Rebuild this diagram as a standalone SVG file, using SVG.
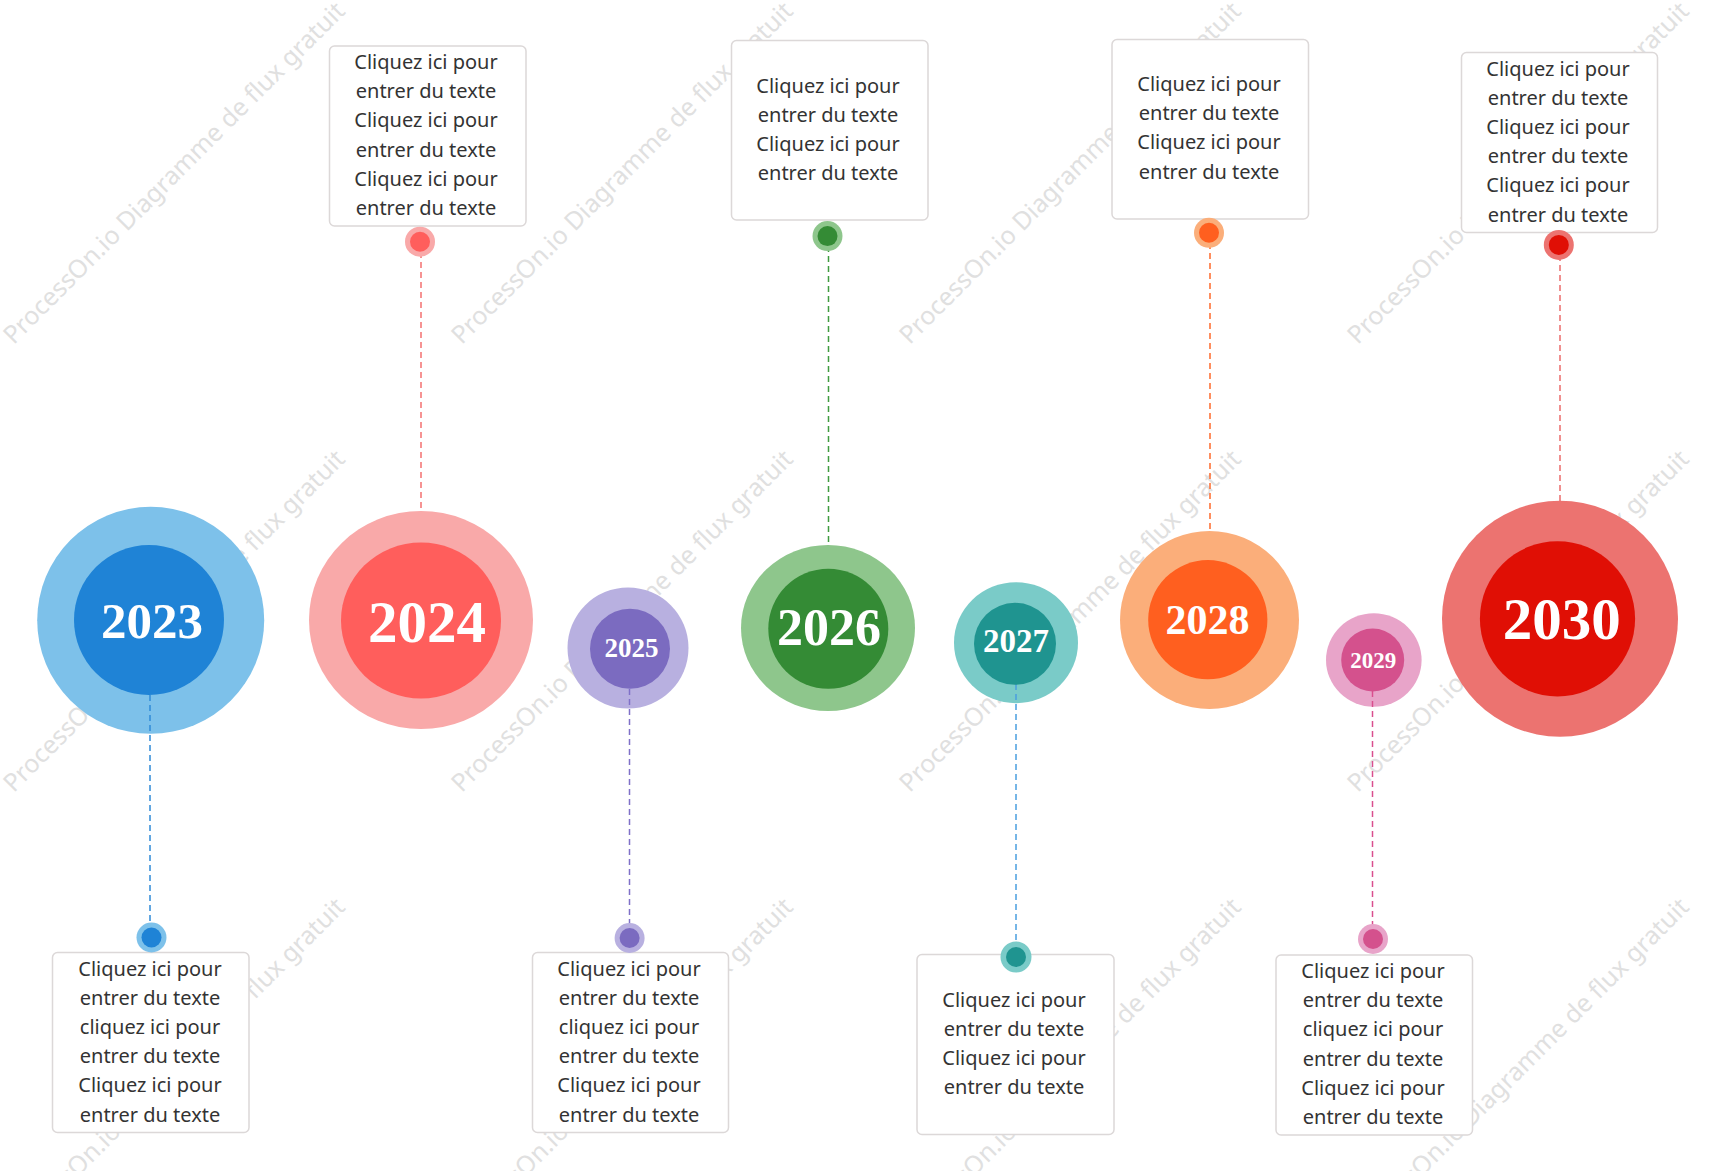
<svg xmlns="http://www.w3.org/2000/svg" width="1714" height="1171" viewBox="0 0 1714 1171">
<defs>
<style>
.wm{font-family:"Noto Sans","Liberation Sans",sans-serif;font-size:25px;fill:#e0e0e0;text-anchor:middle}
.box{fill:#fff;stroke:#dcd8d8;stroke-width:1.5}
.bt{font-family:"Noto Sans","Open Sans",sans-serif;font-size:20px;fill:#333;text-anchor:middle}
.yr{font-family:"Liberation Serif","DejaVu Serif",serif;font-weight:bold;fill:#fff;text-anchor:middle}
.cn{fill:none;stroke-width:1.5;stroke-dasharray:6 4}
</style>
</defs>
<rect width="1714" height="1171" fill="#fff"/>
<g id="watermark">
<text class="wm" transform="translate(180,179) rotate(-45)">ProcessOn.io Diagramme de flux gratuit</text>
<text class="wm" transform="translate(628,179) rotate(-45)">ProcessOn.io Diagramme de flux gratuit</text>
<text class="wm" transform="translate(1076,179) rotate(-45)">ProcessOn.io Diagramme de flux gratuit</text>
<text class="wm" transform="translate(1524,179) rotate(-45)">ProcessOn.io Diagramme de flux gratuit</text>
<text class="wm" transform="translate(180,627) rotate(-45)">ProcessOn.io Diagramme de flux gratuit</text>
<text class="wm" transform="translate(628,627) rotate(-45)">ProcessOn.io Diagramme de flux gratuit</text>
<text class="wm" transform="translate(1076,627) rotate(-45)">ProcessOn.io Diagramme de flux gratuit</text>
<text class="wm" transform="translate(1524,627) rotate(-45)">ProcessOn.io Diagramme de flux gratuit</text>
<text class="wm" transform="translate(180,1075) rotate(-45)">ProcessOn.io Diagramme de flux gratuit</text>
<text class="wm" transform="translate(628,1075) rotate(-45)">ProcessOn.io Diagramme de flux gratuit</text>
<text class="wm" transform="translate(1076,1075) rotate(-45)">ProcessOn.io Diagramme de flux gratuit</text>
<text class="wm" transform="translate(1524,1075) rotate(-45)">ProcessOn.io Diagramme de flux gratuit</text>
</g>

<g id="boxes">
<g id="box2023">
<rect class="box" x="52.5" y="952.5" width="196.5" height="180" rx="5"/>
<text class="bt" x="150" y="975.5">Cliquez ici pour</text>
<text class="bt" x="150" y="1004.7">entrer du texte</text>
<text class="bt" x="150" y="1033.9">cliquez ici pour</text>
<text class="bt" x="150" y="1063.1">entrer du texte</text>
<text class="bt" x="150" y="1092.3">Cliquez ici pour</text>
<text class="bt" x="150" y="1121.5">entrer du texte</text>
</g>
<g id="box2024">
<rect class="box" x="329.5" y="46" width="196.5" height="180" rx="5"/>
<text class="bt" x="426" y="69">Cliquez ici pour</text>
<text class="bt" x="426" y="98.2">entrer du texte</text>
<text class="bt" x="426" y="127.4">Cliquez ici pour</text>
<text class="bt" x="426" y="156.6">entrer du texte</text>
<text class="bt" x="426" y="185.8">Cliquez ici pour</text>
<text class="bt" x="426" y="215">entrer du texte</text>
</g>
<g id="box2025">
<rect class="box" x="532.5" y="952.5" width="196" height="180" rx="5"/>
<text class="bt" x="629" y="975.5">Cliquez ici pour</text>
<text class="bt" x="629" y="1004.7">entrer du texte</text>
<text class="bt" x="629" y="1033.9">cliquez ici pour</text>
<text class="bt" x="629" y="1063.1">entrer du texte</text>
<text class="bt" x="629" y="1092.3">Cliquez ici pour</text>
<text class="bt" x="629" y="1121.5">entrer du texte</text>
</g>
<g id="box2026">
<rect class="box" x="731.5" y="40.5" width="196.5" height="179.5" rx="5"/>
<text class="bt" x="828" y="92.5">Cliquez ici pour</text>
<text class="bt" x="828" y="121.7">entrer du texte</text>
<text class="bt" x="828" y="150.9">Cliquez ici pour</text>
<text class="bt" x="828" y="180.1">entrer du texte</text>
</g>
<g id="box2027">
<rect class="box" x="917" y="954.5" width="197" height="180" rx="5"/>
<text class="bt" x="1014" y="1006.5">Cliquez ici pour</text>
<text class="bt" x="1014" y="1035.7">entrer du texte</text>
<text class="bt" x="1014" y="1064.9">Cliquez ici pour</text>
<text class="bt" x="1014" y="1094.1">entrer du texte</text>
</g>
<g id="box2028">
<rect class="box" x="1112" y="39.5" width="196.5" height="179.5" rx="5"/>
<text class="bt" x="1209" y="91">Cliquez ici pour</text>
<text class="bt" x="1209" y="120.2">entrer du texte</text>
<text class="bt" x="1209" y="149.4">Cliquez ici pour</text>
<text class="bt" x="1209" y="178.6">entrer du texte</text>
</g>
<g id="box2029">
<rect class="box" x="1276" y="955" width="196.5" height="180" rx="5"/>
<text class="bt" x="1373" y="978">Cliquez ici pour</text>
<text class="bt" x="1373" y="1007.2">entrer du texte</text>
<text class="bt" x="1373" y="1036.4">cliquez ici pour</text>
<text class="bt" x="1373" y="1065.6">entrer du texte</text>
<text class="bt" x="1373" y="1094.8">Cliquez ici pour</text>
<text class="bt" x="1373" y="1124">entrer du texte</text>
</g>
<g id="box2030">
<rect class="box" x="1461.5" y="52.5" width="196" height="180" rx="5"/>
<text class="bt" x="1558" y="75.5">Cliquez ici pour</text>
<text class="bt" x="1558" y="104.7">entrer du texte</text>
<text class="bt" x="1558" y="133.9">Cliquez ici pour</text>
<text class="bt" x="1558" y="163.1">entrer du texte</text>
<text class="bt" x="1558" y="192.3">Cliquez ici pour</text>
<text class="bt" x="1558" y="221.5">entrer du texte</text>
</g>
</g>

<g id="outer-rings">
<ellipse id="ring2023" cx="150.7" cy="620.3" rx="113.5" ry="113.5" fill="#7dc1ea"/>
<ellipse id="ring2024" cx="421" cy="620" rx="112" ry="109" fill="#f9a9a9"/>
<ellipse id="ring2025" cx="628" cy="648" rx="60.5" ry="60.5" fill="#b8b0e0"/>
<ellipse id="ring2026" cx="828" cy="628" rx="87" ry="83" fill="#8ec68c"/>
<ellipse id="ring2027" cx="1016" cy="642.7" rx="62" ry="60.5" fill="#7acbc8"/>
<ellipse id="ring2028" cx="1209.5" cy="620" rx="89.5" ry="89" fill="#fbae7a"/>
<ellipse id="ring2029" cx="1373.8" cy="660" rx="47.8" ry="46.7" fill="#e8a4c9"/>
<ellipse id="ring2030" cx="1560" cy="618.7" rx="118" ry="118" fill="#ec7370"/>
</g>

<g id="connectors">
<line class="cn" x1="150" y1="695" x2="150" y2="937" stroke="#2f8ad8"/>
<line class="cn" x1="421" y1="242" x2="421" y2="511" stroke="#f47070"/>
<line class="cn" x1="629.5" y1="689" x2="629.5" y2="938" stroke="#7f70c8"/>
<line class="cn" x1="828.5" y1="236" x2="828.5" y2="545" stroke="#3f9b3f"/>
<line class="cn" x1="1016" y1="684" x2="1016" y2="957" stroke="#4a9fe0"/>
<line class="cn" x1="1210" y1="233" x2="1210" y2="531" stroke="#ff6a2a"/>
<line class="cn" x1="1372.5" y1="691" x2="1372.5" y2="939" stroke="#d94f8e"/>
<line class="cn" x1="1560" y1="245" x2="1560" y2="501" stroke="#ec6b6b"/>
</g>

<g id="node2023">
<circle cx="149" cy="620" r="75" fill="#1f83d6"/>
<text class="yr" x="152" y="638" font-size="51">2023</text>
<circle cx="151.5" cy="937.5" r="15" fill="#7dc1ea"/>
<circle cx="151.5" cy="937.5" r="10" fill="#1f83d6"/>
</g>
<g id="node2024">
<ellipse cx="421" cy="620.5" rx="80" ry="78" fill="#ff5e5c"/>
<text class="yr" x="427" y="641.7" font-size="59">2024</text>
<circle cx="420" cy="241.7" r="15" fill="#f9a9a9"/>
<circle cx="420" cy="241.7" r="10" fill="#ff5e5c"/>
</g>
<g id="node2025">
<circle cx="630" cy="648.7" r="40" fill="#7b6bc0"/>
<text class="yr" x="631.5" y="656.7" font-size="27">2025</text>
<circle cx="629.6" cy="938" r="15" fill="#b8b0e0"/>
<circle cx="629.6" cy="938" r="10" fill="#7b6bc0"/>
</g>
<g id="node2026">
<circle cx="828.3" cy="628.7" r="60" fill="#348b35"/>
<text class="yr" x="829" y="645" font-size="52">2026</text>
<circle cx="827.5" cy="236.1" r="15" fill="#8ec68c"/>
<circle cx="827.5" cy="236.1" r="10" fill="#348b35"/>
</g>
<g id="node2027">
<circle cx="1015" cy="643.8" r="41" fill="#1f9490"/>
<text class="yr" x="1016" y="651.7" font-size="33">2027</text>
<circle cx="1016" cy="957" r="15.5" fill="#7acbc8"/>
<circle cx="1016" cy="957" r="10" fill="#1f9490"/>
</g>
<g id="node2028">
<circle cx="1207.8" cy="619.7" r="59.6" fill="#ff5f1f"/>
<text class="yr" x="1207.5" y="634.3" font-size="42">2028</text>
<circle cx="1209" cy="232.8" r="15" fill="#fbae7a"/>
<circle cx="1209" cy="232.8" r="10" fill="#ff5f1f"/>
</g>
<g id="node2029">
<circle cx="1372.7" cy="660" r="31.5" fill="#d4518d"/>
<text class="yr" x="1373.3" y="668.3" font-size="23">2029</text>
<circle cx="1373" cy="939" r="15" fill="#e8a4c9"/>
<circle cx="1373" cy="939" r="10" fill="#d4518d"/>
</g>
<g id="node2030">
<circle cx="1557.5" cy="618.8" r="77.6" fill="#e00f05"/>
<text class="yr" x="1561.7" y="639.3" font-size="59">2030</text>
<circle cx="1558.8" cy="244.9" r="15" fill="#ec7370"/>
<circle cx="1558.8" cy="244.9" r="10" fill="#e00f05"/>
</g>
</svg>
